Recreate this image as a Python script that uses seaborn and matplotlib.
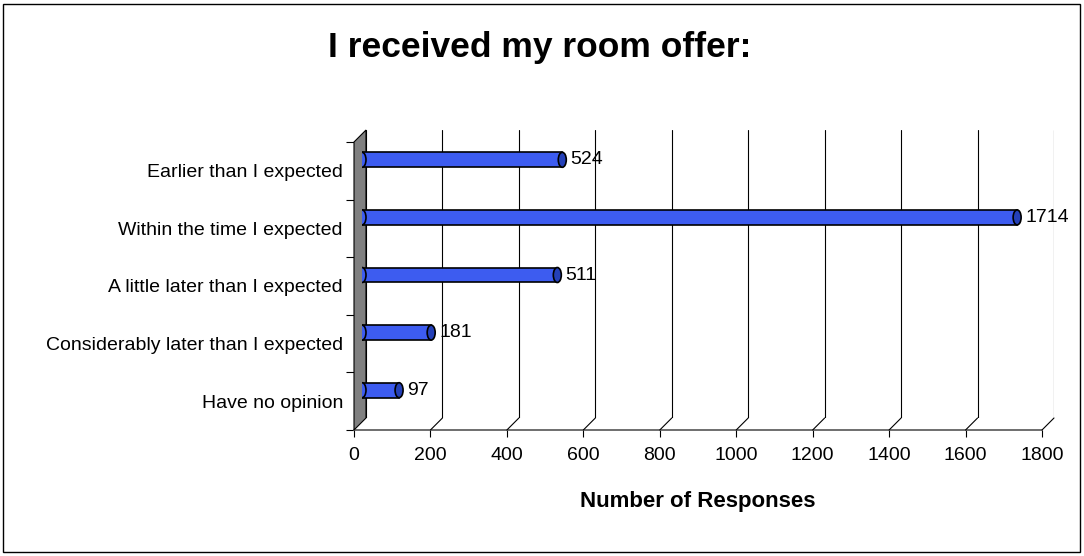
import matplotlib.pyplot as plt
import numpy as np
import seaborn as sns
from matplotlib.lines import Line2D
from matplotlib.patches import Ellipse, Polygon, Rectangle

# survey answers, top to bottom as in the chart
categories = [
    "Earlier than I expected",
    "Within the time I expected",
    "A little later than I expected",
    "Considerably later than I expected",
    "Have no opinion",
]
responses = [524, 1714, 511, 181, 97]
x_ticks = [0, 200, 400, 600, 800, 1000, 1200, 1400, 1600, 1800]

W, H = 1084, 556
DEPTH = 12          # px, fake 3d depth of the floor / wall
BAR_SHIFT = (8, 11)  # px, bars sit between front and back plane
BAR_COLOR = "#3d5cf0"
CAP_COLOR = "#2440b8"

sns.set_theme(style="white")
plt.rcParams["font.family"] = ["Liberation Sans", "DejaVu Sans"]
plt.rcParams["text.color"] = "black"
plt.rcParams["axes.labelcolor"] = "black"
plt.rcParams["xtick.color"] = "black"
plt.rcParams["ytick.color"] = "black"

fig = plt.figure(figsize=(W / 100, H / 100), dpi=100)


def px_axes(left, top, width, height):
    return fig.add_axes([left / W, 1 - (top + height) / H, width / W, height / H])


front = px_axes(354, 142, 688, 288)
back = px_axes(354 + DEPTH, 142 - DEPTH, 688, 288)
bars = px_axes(354 + BAR_SHIFT[0], 142 - BAR_SHIFT[1], 688, 288)
back.set_zorder(0)
front.set_zorder(1)
bars.set_zorder(2)

xmax = x_ticks[-1]
ylim = (len(categories) - 0.5, -0.5)
for ax in (front, back, bars):
    ax.set_xlim(0, xmax)
    ax.set_ylim(*ylim)
    ax.patch.set_alpha(0)

# back plane: vertical gridlines
back.set_xticks(x_ticks)
back.set_yticks([])
back.tick_params(labelbottom=False, bottom=False)
back.grid(axis="x", color="black", linewidth=0.8)
for s in back.spines.values():
    s.set_visible(False)

# front plane: axis, ticks and labels
front.set_xticks(x_ticks)
front.set_xticklabels([str(t) for t in x_ticks], fontsize=14)
front.set_yticks(range(len(categories)))
front.set_yticklabels(categories, fontsize=14, va="bottom")
front.set_yticks(np.arange(-0.5, len(categories), 1), minor=True)
front.tick_params(axis="x", bottom=True, length=5, width=0.8, color="black", pad=7)
front.tick_params(axis="y", which="major", left=True, length=0, pad=8)
front.tick_params(axis="y", which="minor", left=True, length=6, width=0.8, color="black")
for name, s in front.spines.items():
    s.set_visible(name == "bottom")
front.spines["bottom"].set_color("#555555")
front.spines["bottom"].set_linewidth(1.2)
front.set_xlabel("Number of Responses", fontsize=16, fontweight="bold", labelpad=20)
# nudge category labels a touch upward, as in the original
for lbl in front.get_yticklabels():
    lbl.set_verticalalignment("center_baseline")

# floor slants joining back gridlines to the front axis
to_fig = fig.transFigure.inverted()
for t in x_ticks[1:]:
    p_back = to_fig.transform(back.transData.transform((t, ylim[0])))
    p_front = to_fig.transform(front.transData.transform((t, ylim[0])))
    fig.add_artist(Line2D([p_back[0], p_front[0]], [p_back[1], p_front[1]],
                          color="black", linewidth=0.8, transform=fig.transFigure))

# grey side wall
corners = [
    front.transData.transform((0, ylim[1])),
    back.transData.transform((0, ylim[1])),
    back.transData.transform((0, ylim[0])),
    front.transData.transform((0, ylim[0])),
]
wall = Polygon(to_fig.transform(np.array(corners)), closed=True, facecolor="#808080",
               edgecolor="black", linewidth=0.8, transform=fig.transFigure, zorder=1.5)
fig.add_artist(wall)

# bars
bar_w = 0.26
sns.barplot(x=responses, y=categories, orient="h", ax=bars, color=BAR_COLOR,
            edgecolor="black", linewidth=1.2, width=bar_w, saturation=1)
bars.set_xlim(0, xmax)
bars.set_ylim(*ylim)
bars.axis("off")

cap_w = 8 * xmax / 688
for i, v in enumerate(responses):
    bars.add_patch(Ellipse((0, i), cap_w, bar_w, facecolor=BAR_COLOR,
                           edgecolor="black", linewidth=1.2, zorder=1))
    bars.add_patch(Ellipse((v, i), cap_w, bar_w, facecolor=CAP_COLOR,
                           edgecolor="black", linewidth=1.2, zorder=3))
    bars.text(v + cap_w, i, str(v), va="center", ha="left", fontsize=14,
              color="black", zorder=4)

fig.text(0.498, 1 - 48 / H, "I received my room offer:", ha="center", va="center",
         fontsize=25.5, fontweight="bold")

fig.add_artist(Rectangle((3 / W, 4 / H), 1 - 7 / W, 1 - 8 / H, fill=False,
                         edgecolor="black", linewidth=1, transform=fig.transFigure))

fig.savefig("out.png", dpi=100)
